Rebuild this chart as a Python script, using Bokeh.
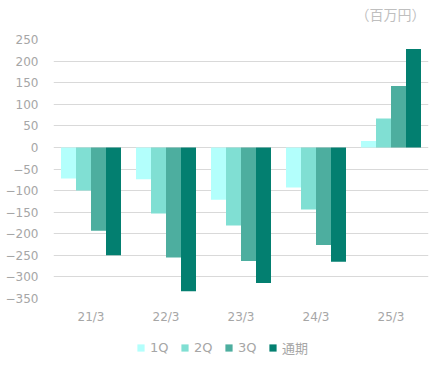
from bokeh.plotting import figure
from bokeh.layouts import column
from bokeh.models import FactorRange, Range1d, FixedTicker, Legend, LegendItem, ColumnDataSource, Label
from bokeh.transform import dodge
from bokeh.embed import file_html
from bokeh.resources import INLINE

years = ["21/3", "22/3", "23/3", "24/3", "25/3"]
series = ["1Q", "2Q", "3Q", "通期"]
q1 = [-72, -74, -121, -93, 15]
q2 = [-100, -153, -181, -144, 67]
q3 = [-193, -255, -263, -226, 142]
full = [-250, -333, -314, -265, 228]
y_ticks = [-350, -300, -250, -200, -150, -100, -50, 0, 50, 100, 150, 200, 250]
unit_label = "（百万円）"

colors = ["#B3FFFC", "#80DFD3", "#4DAE9F", "#037F70"]
offsets = [-0.3, -0.1, 0.1, 0.3]
cols = ["q1", "q2", "q3", "full"]
grey = "#A6A6A6"
W = 436

src = ColumnDataSource(dict(x=years, q1=q1, q2=q2, q3=q3, full=full))


def strip(h):
    f = figure(width=W, height=h, x_range=FactorRange(*years, range_padding=0),
               y_range=Range1d(0, 1), output_backend="svg", toolbar_location=None,
               x_axis_location=None, y_axis_location=None,
               min_border_left=53, min_border_right=8, min_border_top=0, min_border_bottom=0)
    f.outline_line_color = None
    f.grid.visible = False
    return f


# header with unit label (frame aligned with the main chart: 53..428)
head = strip(31)
head.add_layout(Label(x=372, y=18, x_units="screen", y_units="screen", text=unit_label,
                      text_align="right", text_baseline="middle", text_color="#BFBFBF",
                      text_font="Noto Sans CJK JP", text_font_size="14px"))

# main chart
p = figure(width=W, height=297, x_range=FactorRange(*years, range_padding=0),
           y_range=Range1d(-350, 250), output_backend="svg", toolbar_location=None,
           min_border_left=53, min_border_right=8, min_border_top=8, min_border_bottom=30)
p.outline_line_color = None

for col, c, off in zip(cols, colors, offsets):
    p.vbar(x=dodge("x", off, range=p.x_range), top=col, bottom=0, width=0.2,
           source=src, fill_color=c, line_color=None)

p.yaxis.ticker = FixedTicker(ticks=y_ticks)
p.ygrid.ticker = FixedTicker(ticks=y_ticks)
p.ygrid.grid_line_color = "#D9D9D9"
p.ygrid.grid_line_width = 1
p.xgrid.grid_line_color = None

for ax in (p.xaxis, p.yaxis):
    ax.axis_line_color = None
    ax.major_tick_line_color = None
    ax.minor_tick_line_color = None
    ax.major_tick_out = 0
    ax.major_tick_in = 0
    ax.major_label_text_color = grey
    ax.major_label_text_font = "DejaVu Sans"
    ax.major_label_text_font_size = "12px"
p.yaxis.major_label_standoff = 15
p.xaxis.major_label_standoff = 11

# legend strip (hidden copies of the series provide the swatches)
leg = strip(37)
items = []
for name, col, c, off in zip(series, cols, colors, offsets):
    r = leg.vbar(x=dodge("x", off, range=leg.x_range), top=col, bottom=0, width=0.2,
                 source=src, fill_color=c, line_color=None, visible=False)
    items.append(LegendItem(label=name, renderers=[r]))
legend = Legend(items=items, orientation="horizontal", location=(83, 8),
                glyph_width=9, glyph_height=9, label_standoff=5, spacing=10,
                padding=0, margin=0, border_line_color=None, background_fill_alpha=0,
                inactive_fill_alpha=0,
                label_text_color=grey, label_text_font="DejaVu Sans, Noto Sans CJK JP",
                label_text_font_size="13px")
leg.add_layout(legend, "center")

layout = column(head, p, leg, spacing=0)
open("out.html", "w").write(file_html(layout, INLINE))
